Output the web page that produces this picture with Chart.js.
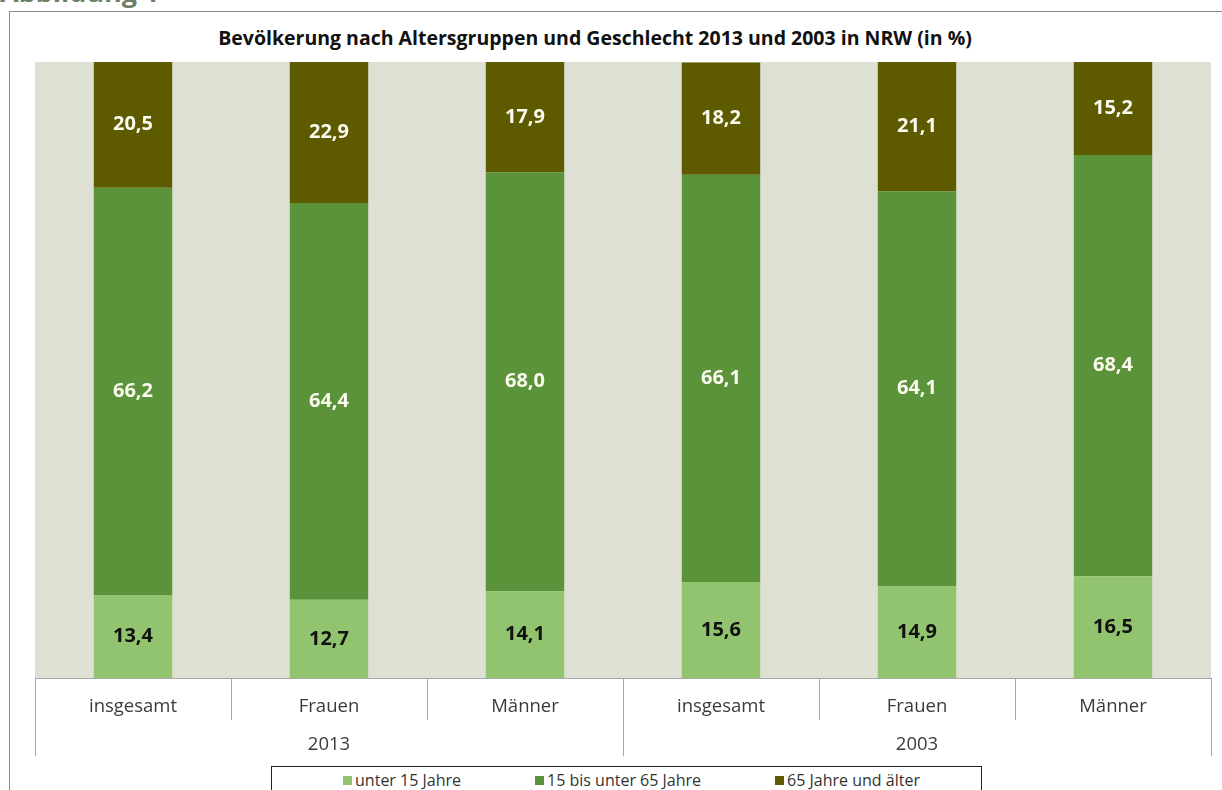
<!DOCTYPE html>
<html lang="de">
<head>
<meta charset="utf-8">
<title>Bevölkerung nach Altersgruppen</title>
<script src="https://cdn.jsdelivr.net/npm/chart.js@4.4.0/dist/chart.umd.min.js"></script>
<style>
  html, body { margin: 0; padding: 0; background: #fff; }
  body { width: 1222px; height: 790px; overflow: hidden; position: relative; font-family: "Open Sans", sans-serif; }
  #figure-label { position: absolute; left: 0; top: -22px; font: bold 27px/27px "Open Sans", sans-serif; color: #6c8069; }
  #frame { position: absolute; left: 9px; top: 11px; width: 1300px; height: 900px; border-top: 1px solid #8a8a8a; border-left: 1px solid #8a8a8a; }
  #chart-title { position: absolute; left: 0; width: 1190px; top: 24px; text-align: center; font: bold 19.5px "Open Sans", sans-serif; color: #111; }
  #chart-box { position: absolute; left: 0; top: 0; width: 1222px; height: 790px; }
  #legend { position: absolute; left: 271px; top: 766px; width: 711px; height: 40px; border: 1px solid #222; background: #fff;
            display: flex; justify-content: center; gap: 74px; padding: 2px 0 0 10px; box-sizing: border-box; font-size: 16px; color: #333; }
  #legend span.item { display: flex; align-items: center; height: 22px; white-space: nowrap; }
  #legend i { display: inline-block; width: 9px; height: 9px; margin-right: 3px; }
</style>
</head>
<body>
<div id="figure-label">Abbildung 1</div>
<div id="frame"></div>
<div id="chart-title">Bevölkerung nach Altersgruppen und Geschlecht 2013 und 2003 in NRW (in %)</div>
<div id="chart-box"><canvas id="chart"></canvas></div>
<div id="legend"></div>

<script>
// --- Daten ---
const categories = ["insgesamt", "Frauen", "Männer", "insgesamt", "Frauen", "Männer"];
const years = ["2013", "2003"];
const unter15 = [13.4, 12.7, 14.1, 15.6, 14.9, 16.5];
const von15bis65 = [66.2, 64.4, 68.0, 66.1, 64.1, 68.4];
const ab65 = [20.5, 22.9, 17.9, 18.2, 21.1, 15.2];

const COLORS = {
  light: "#92c46f",
  mid: "#5b933b",
  dark: "#5d5a00",
  plot: "#dfe0d4",
  line: "#a6a6a6",
};

const axisFont = { family: "Open Sans", size: 18.5 };

// Hintergrund der Zeichenfläche
const plotBackground = {
  id: "plotBackground",
  beforeDraw(chart) {
    const { ctx, chartArea } = chart;
    ctx.save();
    ctx.fillStyle = COLORS.plot;
    ctx.fillRect(chartArea.left, chartArea.top, chartArea.right - chartArea.left, chartArea.bottom - chartArea.top);
    ctx.restore();
  },
};

// Trennlinien der zweistufigen Kategorienachse (wie in Excel)
const groupLines = {
  id: "groupLines",
  afterDraw(chart) {
    const { ctx } = chart;
    const x = chart.scales.x;
    const x2 = chart.scales.x2;
    const step = x.width / categories.length;
    const perGroup = categories.length / years.length;
    ctx.save();
    ctx.strokeStyle = COLORS.line;
    ctx.lineWidth = 1;
    ctx.beginPath();
    ctx.moveTo(x.left, Math.round(x.top) + 0.5);
    ctx.lineTo(x.right, Math.round(x.top) + 0.5);
    for (let i = 0; i <= categories.length; i++) {
      const px = Math.round(x.left + i * step) + 0.5;
      const end = i % perGroup === 0 ? x2.bottom + 2 : x.top + 42;
      ctx.moveTo(px, x.top);
      ctx.lineTo(px, end);
    }
    ctx.stroke();
    ctx.restore();
  },
};

// Werte in die Balken schreiben (deutsches Komma)
const valueLabels = {
  id: "valueLabels",
  afterDatasetsDraw(chart) {
    const { ctx } = chart;
    ctx.save();
    ctx.font = "bold 20px 'Open Sans', sans-serif";
    ctx.textAlign = "center";
    ctx.textBaseline = "middle";
    chart.data.datasets.forEach((ds, di) => {
      const meta = chart.getDatasetMeta(di);
      meta.data.forEach((bar, i) => {
        const v = ds.data[i];
        const yMid = (bar.y + bar.base) / 2;
        ctx.fillStyle = ds.labelColor;
        ctx.fillText(v.toFixed(1).replace(".", ","), bar.x, yMid);
      });
    });
    ctx.restore();
  },
};

const ctx = document.getElementById("chart").getContext("2d");
const chart = new Chart(ctx, {
  type: "bar",
  data: {
    labels: categories,
    datasets: [
      { label: "unter 15 Jahre", data: unter15, backgroundColor: COLORS.light, labelColor: "#111" },
      { label: "15 bis unter 65 Jahre", data: von15bis65, backgroundColor: COLORS.mid, labelColor: "#fbfbf0" },
      { label: "65 Jahre und älter", data: ab65, backgroundColor: COLORS.dark, labelColor: "#fbfbf0" },
    ],
  },
  options: {
    responsive: true,
    maintainAspectRatio: false,
    animation: false,
    layout: { padding: { top: 62, left: 35, right: 11, bottom: 35.8 } },
    datasets: { bar: { categoryPercentage: 1, barPercentage: 0.4 } },
    scales: {
      x: {
        stacked: true,
        grid: { display: false, drawTicks: false },
        border: { display: false },
        ticks: { color: "#3a3a3a", font: axisFont, padding: 17.9, maxRotation: 0 },
      },
      x2: {
        type: "category",
        position: "bottom",
        labels: years,
        offset: true,
        grid: { display: false, drawTicks: false },
        border: { display: false },
        ticks: { color: "#3a3a3a", font: axisFont, padding: -2 },
      },
      y: { stacked: true, display: false, min: 0, max: 100 },
    },
    plugins: {
      legend: { display: false },
      tooltip: { enabled: false },
    },
  },
  plugins: [plotBackground, groupLines, valueLabels],
});

// Legende als HTML unter dem Diagramm
const legendEl = document.getElementById("legend");
chart.data.datasets.forEach((ds) => {
  const item = document.createElement("span");
  item.className = "item";
  item.innerHTML = `<i style="background:${ds.backgroundColor}"></i>${ds.label}`;
  legendEl.appendChild(item);
});
</script>
</body>
</html>
